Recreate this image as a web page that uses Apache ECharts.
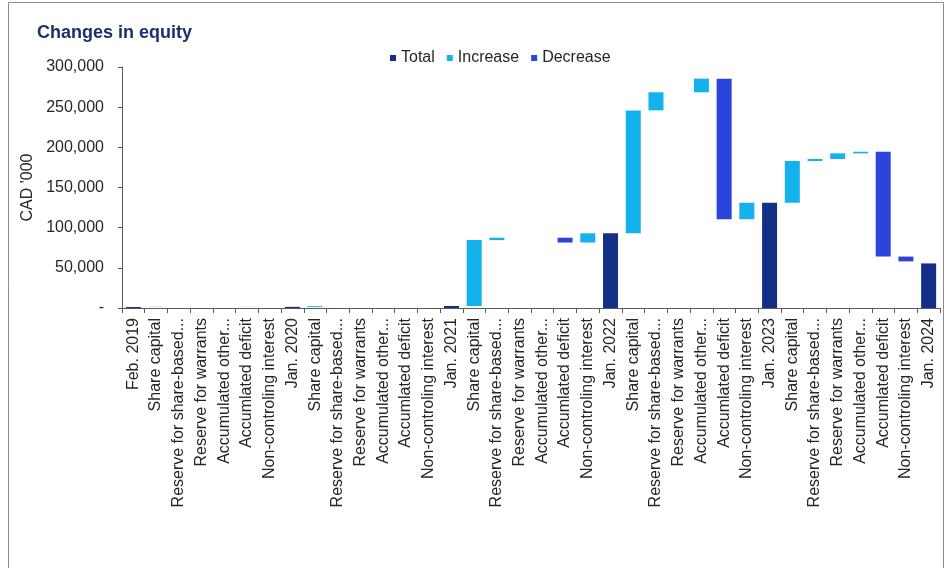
<!DOCTYPE html>
<html>
<head>
<meta charset="utf-8">
<title>Changes in equity</title>
<script src="https://cdn.jsdelivr.net/npm/echarts@6/dist/echarts.min.js"></script>
<style>
  html, body { margin: 0; padding: 0; background: #ffffff; }
  #chart { width: 949px; height: 568px; }
</style>
</head>
<body>
<div id="chart"></div>
<script>
// Equity roll-forward, CAD '000
const periodLabels = ['Feb. 2019', 'Jan. 2020', 'Jan. 2021', 'Jan. 2022', 'Jan. 2023', 'Jan. 2024'];
const periodTotals = [1200, 1400, 2500, 93000, 131000, 55500];

const movementLabels = [
  'Share capital',
  'Reserve for share-based...',
  'Reserve for warrants',
  'Accumulated other...',
  'Accumlated deficit',
  'Non-controling interest'
];

// Movements during each year, in the order of movementLabels
const movements2019 = [300, 0, 0, 0, -100, 0];
const movements2020 = [1100, 0, 0, 0, 0, 0];
const movements2021 = [82000, 3000, 0, 0, -6000, 11500];
const movements2022 = [153000, 22500, 0, 17000, -175000, 20500];
const movements2023 = [52000, 2500, 7000, 2000, -130500, -6000];

const yearMovements = [movements2019, movements2020, movements2021, movements2022, movements2023];

const yTicks = { min: 0, max: 300000, interval: 50000 };

// Build the waterfall: an invisible base stacked under the visible pieces
const categories = [];
const baseData = [], totalData = [], increaseData = [], decreaseData = [];

periodLabels.forEach((label, p) => {
  categories.push(label);
  baseData.push('-');
  totalData.push(periodTotals[p]);
  increaseData.push('-');
  decreaseData.push('-');
  if (p < yearMovements.length) {
    let running = periodTotals[p];
    yearMovements[p].forEach((chg, k) => {
      categories.push(movementLabels[k]);
      totalData.push('-');
      if (chg === 0) {
        baseData.push('-'); increaseData.push('-'); decreaseData.push('-');
      } else if (chg > 0) {
        baseData.push(running); increaseData.push(chg); decreaseData.push('-');
        running += chg;
      } else {
        running += chg;
        baseData.push(running); increaseData.push('-'); decreaseData.push(-chg);
      }
    });
  }
});

const COLORS = { total: '#132f86', increase: '#14b2ec', decrease: '#2b45dc' };
const FONT = '"Liberation Sans", Arial, sans-serif';
const AXIS_GREY = '#5a5a5a';

const chart = echarts.init(document.getElementById('chart'), null, { renderer: 'canvas' });

chart.setOption({
  animation: false,
  backgroundColor: '#ffffff',
  textStyle: { fontFamily: FONT },
  graphic: [{
    type: 'rect',
    shape: { x: 8.5, y: 2.5, width: 935, height: 600 },
    style: { fill: 'none', stroke: '#8c8c8c', lineWidth: 1 },
    silent: true
  }],
  title: {
    text: 'Changes in equity',
    left: 32, top: 19,
    textStyle: { fontFamily: FONT, fontSize: 18, fontWeight: 'bold', color: '#1b2f6e' }
  },
  legend: {
    left: 385, top: 45,
    icon: 'rect', itemWidth: 6, itemHeight: 6, itemGap: 12,
    textStyle: { fontFamily: FONT, fontSize: 16, color: '#262626' },
    data: ['Total', 'Increase', 'Decrease']
  },
  grid: { left: 122, right: 9, top: 67, bottom: 260 },
  xAxis: {
    type: 'category',
    data: categories,
    axisLine: { show: true, lineStyle: { color: AXIS_GREY, width: 1 } },
    axisTick: { show: true, alignWithLabel: false, length: 5, lineStyle: { color: AXIS_GREY } },
    axisLabel: {
      interval: 0, rotate: 90, margin: 10,
      fontFamily: FONT, fontSize: 16, color: '#262626'
    }
  },
  yAxis: {
    type: 'value',
    min: yTicks.min, max: yTicks.max, interval: yTicks.interval,
    name: "CAD '000",
    nameLocation: 'middle', nameRotate: 90, nameGap: 86,
    nameTextStyle: { fontFamily: FONT, fontSize: 16, color: '#262626' },
    axisLine: { show: true, lineStyle: { color: AXIS_GREY, width: 1 } },
    axisTick: { show: true, length: 4, lineStyle: { color: AXIS_GREY } },
    splitLine: { show: false },
    axisLabel: {
      margin: 18, fontFamily: FONT, fontSize: 16, color: '#262626',
      formatter: v => v === 0 ? '-' : v.toLocaleString('en-US')
    }
  },
  series: [
    {
      name: 'base', type: 'bar', stack: 'w', barWidth: 15,
      itemStyle: { color: 'transparent' }, silent: true,
      data: baseData
    },
    {
      name: 'Total', type: 'bar', stack: 'w', barWidth: 15,
      itemStyle: { color: COLORS.total },
      data: totalData
    },
    {
      name: 'Increase', type: 'bar', stack: 'w', barWidth: 15,
      itemStyle: { color: COLORS.increase },
      data: increaseData
    },
    {
      name: 'Decrease', type: 'bar', stack: 'w', barWidth: 15,
      itemStyle: { color: COLORS.decrease },
      data: decreaseData
    }
  ]
});
</script>
</body>
</html>
